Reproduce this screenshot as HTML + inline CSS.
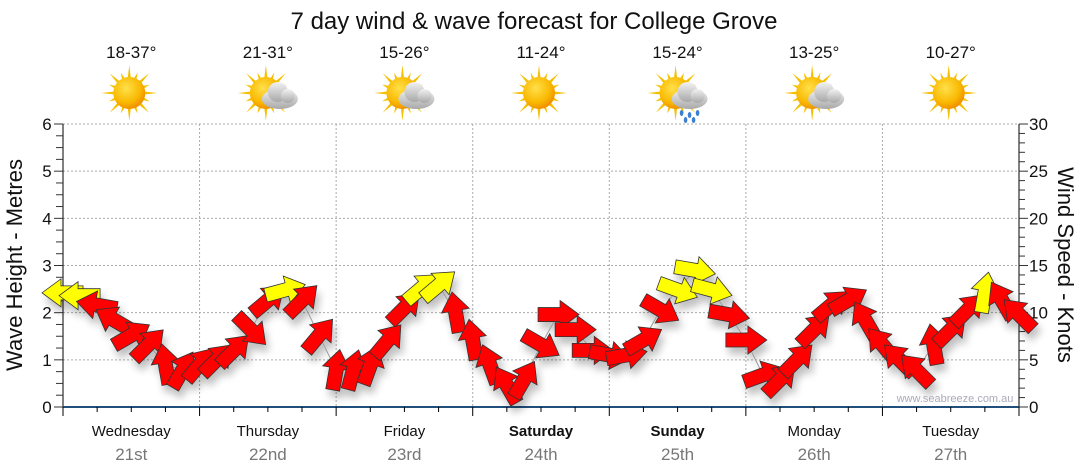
<!DOCTYPE html>
<html><head><meta charset="utf-8">
<style>
body{margin:0;background:#fff;}
svg{display:block;font-family:"Liberation Sans",sans-serif;}
</style></head>
<body>
<svg id="chart" width="1080" height="475" viewBox="0 0 1080 475" xmlns="http://www.w3.org/2000/svg">
<defs>
<filter id="shadow" x="-50%" y="-50%" width="200%" height="200%">
<feGaussianBlur in="SourceAlpha" stdDeviation="4"/>
<feOffset dx="3" dy="7" result="o"/>
<feComponentTransfer><feFuncA type="linear" slope="0.25"/></feComponentTransfer>
<feMerge><feMergeNode/><feMergeNode in="SourceGraphic"/></feMerge>
</filter>
<radialGradient id="sunG" cx="40%" cy="35%" r="65%">
<stop offset="0" stop-color="#ffe04a"/><stop offset="0.7" stop-color="#f9b800"/><stop offset="1" stop-color="#f09000"/>
</radialGradient>
<linearGradient id="cloudG" x1="0" y1="0" x2="0" y2="1">
<stop offset="0" stop-color="#f2f2f2"/><stop offset="1" stop-color="#a8a8a8"/>
</linearGradient>
</defs>
<text x="534" y="29" font-size="24" text-anchor="middle" fill="#111">7 day wind &amp; wave forecast for College Grove</text>
<g id="grid"></g>
<g id="axes"></g>
<g id="icons"></g>
<g id="arrows" filter="url(#shadow)"></g>
<text transform="translate(22,265) rotate(-90)" font-size="22" text-anchor="middle" fill="#111">Wave Height - Metres</text>
<text transform="translate(1058,265) rotate(90)" font-size="22" text-anchor="middle" fill="#111">Wind Speed - Knots</text>
<text x="955" y="402" font-size="11" text-anchor="middle" fill="#aab">www.seabreeze.com.au</text>
</svg>
<script>
const dayNames=["Wednesday","Thursday","Friday","Saturday","Sunday","Monday","Tuesday"];
const dayDates=["21st","22nd","23rd","24th","25th","26th","27th"];
const dayBold=[false,false,false,true,true,false,false];
const tempRanges=["18-37°","21-31°","15-26°","11-24°","15-24°","13-25°","10-27°"];
const weatherTypes=["sun","cloud","cloud","sun","rain","cloud","sun"];
const waveTicks=[0,1,2,3,4,5,6];
const windTicks=[0,5,10,15,20,25,30];
// wind every 3 hours (hours from Wed 00:00)
const windHours=[0,3,6,9,12,15,18,21,24,27,30,33,36,39,42,45,48,51,54,57,60,63,66,69,72,75,78,81,84,87,90,93,96,99,102,105,108,111,114,117,120,123,126,129,132,135,138,141,144,147,150,153,156,159,162,165,168];
const windSpeed=[12.1,11.8,10.8,9.2,7.6,6.6,4.5,3.9, 4.5,5.0,6.0,8.2,11.3,12.4,11.3,7.6, 3.9,3.9,4.4,7.0,10.5,12.6,12.9,10.0, 7.1,4.5,2.3,2.9,6.6,9.8,8.2,6.0, 5.5,5.5,7.1,10.3,12.4,14.5,12.4,9.8, 7.1,3.4,2.9,5.0,8.2,10.8,11.3,9.2, 6.6,5.0,3.9,6.6,8.2,10.3,12.1,11.3,9.8];
const windDir=[180,180,170,150,30,45,100,60, 50,45,45,-45,40,15,45,50, 80,75,70,50,45,40,40,100, 100,110,120,60,-30,0,0,0, -10,10,30,-30,-20,-10,-15,-10, 0,20,45,45,45,40,30,120, 130,135,135,100,45,45,80,120,135];
</script>
<script>
const NS="http://www.w3.org/2000/svg";
const X0=63,X1=1019,Y0=407,Y1=124;
const xH=h=>X0+h*(X1-X0)/168;
const yM=m=>Y0-m*(Y0-Y1)/6;
const yK=k=>Y0-k*(Y0-Y1)/30;
function mk(tag,attrs,parent){const e=document.createElementNS(NS,tag);for(const k in attrs)e.setAttribute(k,attrs[k]);parent.appendChild(e);return e;}
const grid=document.getElementById('grid'),axes=document.getElementById('axes'),icons=document.getElementById('icons'),arrows=document.getElementById('arrows');
waveTicks.forEach(t=>{if(t===0)return;
 const l=mk('line',{x1:X0,x2:X1,y1:yM(t),y2:yM(t),stroke:'#aaa','stroke-dasharray':'2,2'},grid);
 
 });
for(let d=1;d<7;d++){
 const l=mk('line',{x1:xH(d*24),x2:xH(d*24),y1:Y1,y2:Y0,stroke:'#aaa','stroke-dasharray':'2,2'},grid);
 
 }
mk('line',{x1:X0,x2:X0,y1:Y1,y2:Y0,stroke:'#000'},axes);
mk('line',{x1:X1,x2:X1,y1:Y1,y2:Y0,stroke:'#000'},axes);
for(let m=0;m<=24;m++){const y=yM(m/4);mk('line',{x1:m%4?X0-7:X0-9,x2:X0,y1:y,y2:y,stroke:'#333'},axes);}
for(let k=0;k<=30;k++){const y=yK(k);mk('line',{x1:X1,x2:k%5?X1+6:X1+9,y1:y,y2:y,stroke:'#333'},axes);}
waveTicks.forEach(t=>{const e=mk('text',{x:47,y:yM(t)+6,'font-size':17,'text-anchor':'middle',fill:'#111'},axes);e.textContent=t;
 
 });
windTicks.forEach(t=>{const e=mk('text',{x:1029,y:yK(t)+6,'font-size':17,fill:'#111'},axes);e.textContent=t;
 
 });
mk('line',{x1:X0,x2:X1,y1:Y0,y2:Y0,stroke:'#1f4f7a','stroke-width':2},axes);
for(let h=0;h<=168;h+=6){const x=xH(h);mk('line',{x1:x,x2:x,y1:Y0,y2:Y0+(h%24?5:9),stroke:'#000'},axes);}
dayNames.forEach((n,i)=>{const cx=xH(i*24+12);
 const a=mk('text',{x:cx,y:436,'font-size':15,'text-anchor':'middle',fill:'#111','font-weight':dayBold[i]?'bold':'normal'},axes);a.textContent=n;
 
 
 const b=mk('text',{x:cx,y:460,'font-size':17,'text-anchor':'middle',fill:'#777'},axes);b.textContent=dayDates[i];
 
 
 const t=mk('text',{x:cx,y:58,'font-size':17,'text-anchor':'middle',fill:'#111'},icons);t.textContent=tempRanges[i];
 
 
 const g=mk('g',{transform:`translate(${cx-2},93)`},icons);
 
 
 for(let r=0;r<16;r++){const ang=r*Math.PI/8,L=r%2?22:28;
  mk('polygon',{points:`${Math.cos(ang-0.12)*14},${Math.sin(ang-0.12)*14} ${Math.cos(ang)*L},${Math.sin(ang)*L} ${Math.cos(ang+0.12)*14},${Math.sin(ang+0.12)*14}`,fill:'#f5c000'},g);}
 mk('circle',{cx:0,cy:0,r:16,fill:'url(#sunG)'},g);
 if(weatherTypes[i]!=='sun'){
  mk('ellipse',{cx:14,cy:6,rx:18,ry:10,fill:'url(#cloudG)'},g);
  mk('circle',{cx:12,cy:-1,r:10,fill:'url(#cloudG)'},g);
  mk('circle',{cx:22,cy:3,r:7,fill:'url(#cloudG)'},g);
 }
 if(weatherTypes[i]==='rain'){[[6,20],[14,22],[22,20],[10,27],[18,27]].forEach(p=>mk('ellipse',{cx:p[0],cy:p[1],rx:1.8,ry:3,fill:'#3a7fd0'},g));}
});
let pts=windHours.map((h,i)=>xH(h)+','+yK(windSpeed[i])).join(' ');
const ln=mk('polyline',{points:pts,fill:'none',stroke:'#999','stroke-width':1},arrows);


windHours.forEach((h,i)=>{
 const s=windSpeed[i];
 const p=mk('polygon',{points:'-20,-7 2,-7 2,-14 21,0 2,14 2,7 -20,7',fill:s>=11.7?'#ffff00':'#ff0000',stroke:'#333','stroke-width':0.8,
  transform:`translate(${xH(h)},${yK(s)}) rotate(${-windDir[i]})`},arrows);
 
 
});
</script>
</body></html>
